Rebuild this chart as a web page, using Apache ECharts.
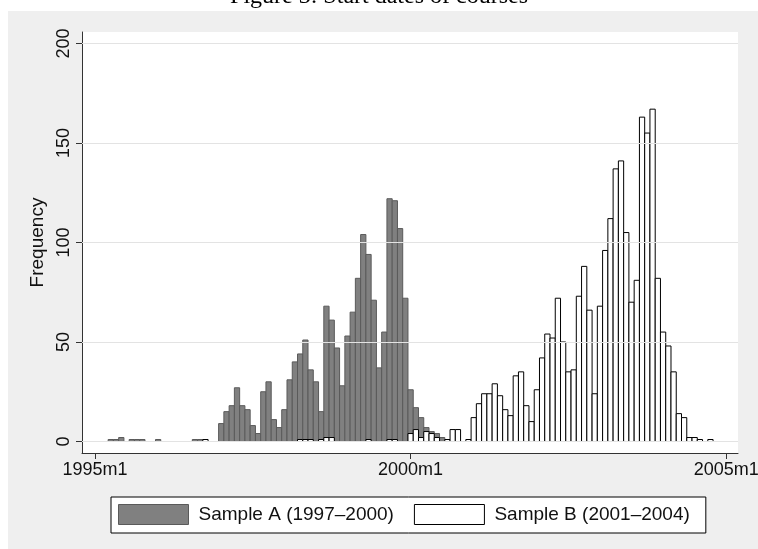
<!DOCTYPE html>
<html><head><meta charset="utf-8">
<script src="https://cdn.jsdelivr.net/npm/echarts@6/dist/echarts.min.js"></script>
<style>html,body{margin:0;padding:0;background:#fff}#c{width:758px;height:549px}</style>
</head><body><div id="c"></div>
<script>
const titleText = 'Figure 3: Start dates of courses';
const seriesNames = ['Sample A (1997–2000)', 'Sample B (2001–2004)'];
const yAxisName = 'Frequency';

// month index counted from 1995m1 (= 0)
const monthsA = [3,4,5,7,8,9,12,19,20,
  24,25,26,27,28,29,30,31,32,33,34,35,36,37,38,39,40,41,42,43,
  44,45,46,47,48,49,50,51,52,53,54,55,56,57,58,59,60,61,62,63,64,65,66,67];
const countsA = [1,1,2,1,1,1,1,1,1,
  9,15,18,27,18,16,8,4,25,30,11,7,16,31,40,44,51,36,30,15,
  68,61,47,28,53,65,82,104,94,71,37,55,122,121,107,72,26,17,12,7,5,4,2,1];

const monthsB = [21,39,40,41,43,44,45,52,56,57,60,61,62,63,64,65,67,68,69,71,
  72,73,74,75,76,77,78,79,80,81,82,83,84,85,86,87,88,89,90,91,
  92,93,94,95,96,97,98,99,100,101,102,103,104,105,106,107,108,109,110,111,
  112,113,114,115,117];
const countsB = [1,1,1,1,1,2,2,1,1,1,4,6,2,5,4,2,1,6,6,1,
  12,19,24,24,29,23,16,13,33,35,18,10,26,42,54,52,72,50,35,36,
  73,88,66,24,68,96,112,137,141,105,70,81,163,155,167,82,55,48,35,14,
  12,2,2,1,1];

const xTickMonths = [0, 60, 120];
const xTickLabels = ['1995m1', '2000m1', '2005m1'];
const yTicks = [0, 50, 100, 150, 200];

const sans = '"Liberation Sans", Arial, Helvetica, sans-serif';
const pairs = (ms, cs) => ms.map((m, i) => [m, cs[i]]);

function barRenderer(fill, stroke, lw) {
  return function (params, api) {
    const m = api.value(0), c = api.value(1);
    const tl = api.coord([m - 0.5, c]);
    const br = api.coord([m + 0.5, 0]);
    return {
      type: 'rect',
      shape: { x: tl[0], y: tl[1], width: br[0] - tl[0], height: br[1] - tl[1] },
      style: { fill: fill, stroke: stroke, lineWidth: lw }
    };
  };
}

const chart = echarts.init(document.getElementById('c'), null, { renderer: 'canvas' });
chart.setOption({
  animation: false,
  backgroundColor: '#efefef',
  graphic: [
    { type: 'rect', left: 0, top: 0, shape: { width: 758, height: 11 }, style: { fill: '#fff' }, silent: true },
    { type: 'rect', left: 0, top: 0, shape: { width: 8, height: 549 }, style: { fill: '#fff' }, silent: true },
    { type: 'text', left: 'center', top: -15, z: 10, silent: true,
      style: { text: titleText, font: '24px "Liberation Serif", "Times New Roman", serif', fill: '#000' } }
  ],
  grid: { left: 82, right: 20, top: 32, bottom: 96, show: true, backgroundColor: '#fff', borderWidth: 0, outerBoundsMode: 'none' },
  xAxis: {
    type: 'value', min: -2.47, max: 122.24,
    axisLine: { onZero: false, lineStyle: { color: '#333', width: 1 } },
    axisTick: { show: true, customValues: xTickMonths, length: 6, lineStyle: { color: '#333' } },
    axisLabel: { customValues: xTickMonths, formatter: v => xTickLabels[xTickMonths.indexOf(v)],
      fontSize: 18, fontFamily: sans, color: '#111', margin: 8 },
    splitLine: { show: false }
  },
  yAxis: {
    type: 'value', min: -5.78, max: 205.78,
    name: yAxisName, nameLocation: 'middle', nameRotate: 90, nameGap: 33,
    nameTextStyle: { fontSize: 19, fontFamily: sans, color: '#111' },
    axisLine: { show: true, onZero: false, lineStyle: { color: '#333', width: 1 } },
    axisTick: { show: true, customValues: yTicks, length: 6, lineStyle: { color: '#333' } },
    axisLabel: { customValues: yTicks, rotate: 90, fontSize: 18, fontFamily: sans, color: '#111', margin: 9 },
    splitLine: { show: false }
  },
  legend: {
    left: 111, top: 497, orient: 'horizontal',
    padding: [7, 16, 8, 7], itemGap: 20, itemWidth: 70, itemHeight: 20,
    backgroundColor: '#fff', borderColor: '#000', borderWidth: 1, borderRadius: 0,
    textStyle: { fontSize: 19, fontFamily: sans, color: '#111', padding: [0, 0, 0, 5] },
    selectedMode: false,
    data: [
      { name: seriesNames[0], icon: 'rect', itemStyle: { color: '#808080', borderColor: '#5a5a5a', borderWidth: 1 } },
      { name: seriesNames[1], icon: 'rect', itemStyle: { color: '#fff', borderColor: '#000', borderWidth: 1 } }
    ]
  },
  series: [
    { type: 'line', data: [], z: 1, silent: true,
      markLine: { silent: true, symbol: 'none', label: { show: false },
        lineStyle: { color: '#e3e3e3', width: 1, type: 'solid' },
        data: yTicks.map(v => ({ yAxis: v })) } },
    { type: 'custom', name: seriesNames[0], z: 2, renderItem: barRenderer('#808080', '#5a5a5a', 1),
      itemStyle: { color: '#808080', borderColor: '#5a5a5a' },
      encode: { x: 0, y: 1 }, data: pairs(monthsA, countsA) },
    { type: 'custom', name: seriesNames[1], z: 3, renderItem: barRenderer('#fff', '#000', 1),
      itemStyle: { color: '#fff', borderColor: '#000' },
      encode: { x: 0, y: 1 }, data: pairs(monthsB, countsB) }
  ]
});
</script></body></html>
